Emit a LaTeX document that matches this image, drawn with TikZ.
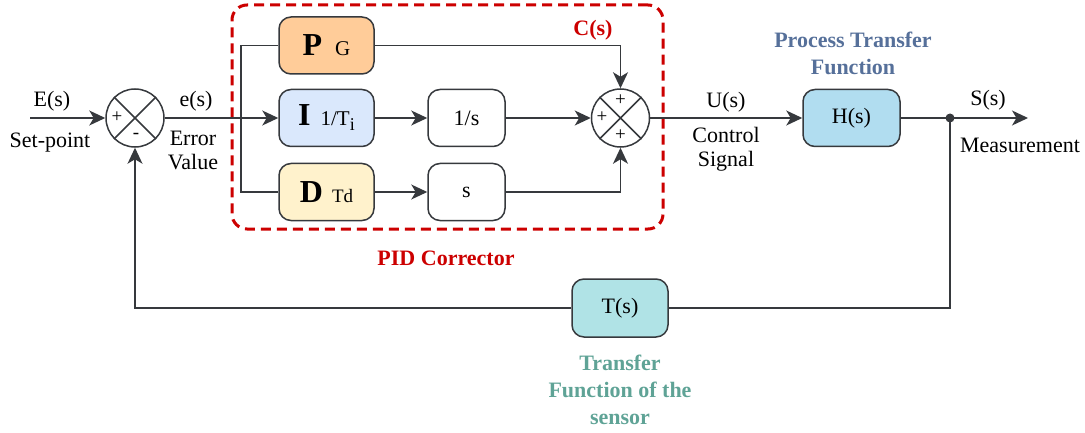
\documentclass[tikz,border=0pt]{standalone}
\usepackage{fontspec}
\setmainfont{Liberation Serif}[BoldFont={Liberation Serif Bold}]
\newfontfamily\titlefont{Liberation Serif Bold}
\usetikzlibrary{arrows.meta}
\definecolor{linegray}{HTML}{36393D}
\definecolor{pfill}{HTML}{FFCC99}
\definecolor{ifill}{HTML}{DAE8FC}
\definecolor{dfill}{HTML}{FFF2CC}
\definecolor{hfill}{HTML}{B1DDF0}
\definecolor{tfill}{HTML}{B0E3E6}
\definecolor{pidred}{HTML}{CC0000}
\definecolor{procblue}{HTML}{56709A}
\definecolor{sensteal}{HTML}{5FA396}
\tikzset{
  every node/.style={font=\fontsize{22}{24}\selectfont, text=black},
  wire/.style={draw=linegray, line width=1.5pt},
  arr/.style={wire, -{Stealth[length=16pt,width=15pt,inset=4.5pt]}},
  block/.style={draw=linegray, line width=1.5pt, rounded corners=12pt,
    minimum width=95pt, minimum height=57pt, inner sep=0pt},
  smallblock/.style={block, minimum width=77pt},
  sumc/.style={circle, draw=linegray, line width=1.5pt, minimum size=58pt, inner sep=0pt},
  sign/.style={font=\fontsize{19}{19}\selectfont, inner sep=0pt},
  lbl/.style={align=center, inner sep=0pt},
  title/.style={align=center, inner sep=0pt, font=\fontsize{22}{27}\titlefont},
}
\begin{document}
\begin{tikzpicture}[x=1pt, y=-1pt]
\useasboundingbox (0,0) rectangle (1085,433);

% controller frame
\node[draw=pidred, line width=3pt, dash pattern=on 10pt off 6pt, rounded corners=15pt,
  minimum width=431pt, minimum height=224pt, inner sep=0pt] (pid) at (447.5,117) {};
\node[title, text=pidred] (cs) at (593,30) {C(s)};
\node[title, text=pidred] (pidlbl) at (446,258) {PID Corrector};

% summing junctions
\node[sumc] (s1) at (135,118) {};
\draw[wire] (s1.north west) -- (s1.south east) (s1.north east) -- (s1.south west);
\node[sign] (s1p) at (117,117) {+};
\node[sign] (s1m) at (136,136) {-};

\node[sumc] (s2) at (620.5,118) {};
\draw[wire] (s2.north west) -- (s2.south east) (s2.north east) -- (s2.south west);
\node[sign] (s2t) at (620.5,100) {+};
\node[sign] (s2l) at (602,117) {+};
\node[sign] (s2b) at (620.5,135) {+};

% controller blocks
\node[block, fill=pfill] (P) at (326.5,45.5)
  {{\fontsize{32}{32}\selectfont\bfseries P}\hspace{13pt}{\fontsize{21}{21}\selectfont G}};
\node[block, fill=ifill] (I) at (326.5,118)
  {{\fontsize{32}{32}\selectfont\bfseries I}\hspace{10pt}{\fontsize{21}{21}\selectfont 1/T\raisebox{-5pt}{\fontsize{18}{18}\selectfont i}}};
\node[block, fill=dfill] (D) at (326.5,192)
  {{\fontsize{32}{32}\selectfont\bfseries D}\hspace{9pt}{\fontsize{19}{19}\selectfont Td}};
\node[smallblock, fill=white] (int) at (466.5,118) {1/s};
\node[smallblock, fill=white] (der) at (466.5,192) {s};

% plant and sensor
\node[block, fill=hfill, minimum width=97pt] (H) at (851.5,118) {H(s)};
\node[block, fill=tfill, minimum width=96pt, minimum height=58pt] (T) at (620,308) {T(s)};
\node[title, text=procblue] (hlbl) at (853,53) {Process Transfer\\Function};
\node[title, text=sensteal] (tlbl) at (620,390) {Transfer\\Function of the\\sensor};

% signal labels
\node[lbl] (Es) at (52,101) {E(s)};
\node[lbl] (sp) at (50,143) {Set-point};
\node[lbl] (es) at (196,101) {e(s)};
\node[lbl] (ev) at (193,150) {Error\\Value};
\node[lbl] (Us) at (726,102) {U(s)};
\node[lbl] (cv) at (726,149) {Control\\Signal};
\node[lbl] (Ss) at (988,100) {S(s)};
\node[lbl] (ms) at (1020,145) {Measurement};

% connectors
\coordinate (in) at (30,118);
\coordinate (bus) at (241,118);
\coordinate (out) at (1028,118);
\fill[linegray] (950,118) circle (4.5pt) coordinate (tap);

\draw[arr] (in) -- (s1.west);
\draw[arr] (s1.east) -- (I.west);
\draw[wire] (P.west) -| (bus) |- (D.west);
\draw[arr] (I.east) -- (int.west);
\draw[arr] (D.east) -- (der.west);
\draw[arr] (int.east) -- (s2.west);
\draw[arr] (P.east) -| (s2.north);
\draw[arr] (der.east) -| (s2.south);
\draw[arr] (s2.east) -- (H.west);
\draw[arr] (H.east) -- (out);
\draw[wire] (tap) |- (T.east);
\draw[arr] (T.west) -| (s1.south);
\end{tikzpicture}
\end{document}
